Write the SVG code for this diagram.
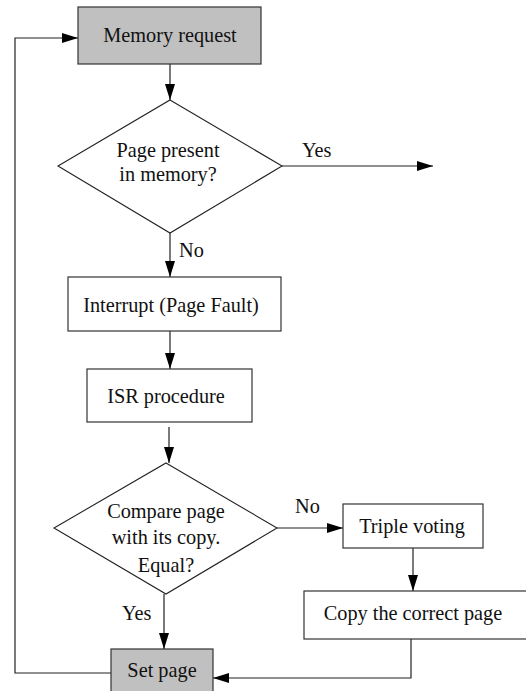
<svg xmlns="http://www.w3.org/2000/svg" width="526" height="691" viewBox="0 0 526 691">
<style>
  .box { fill: #ffffff; stroke: #333333; stroke-width: 1.2; }
  .grey { fill: #c0c0c0; stroke: #333333; stroke-width: 1.2; }
  .dia { fill: #ffffff; stroke: #222222; stroke-width: 1.1; }
  .lbl { font-family: "Liberation Serif", "Times New Roman", serif; font-size: 20.3px; fill: #111111; }
  .c { text-anchor: middle; }
  .conn { fill: none; stroke: #222222; stroke-width: 1.2; }
</style>
<defs>
  <marker id="arr" markerUnits="userSpaceOnUse" markerWidth="16" markerHeight="10" refX="16" refY="5" orient="auto">
    <path d="M0,0 L16,5 L0,10 z" fill="#000000"/>
  </marker>
</defs>
<rect width="526" height="691" fill="#ffffff"/>
<g id="connectors">
  <line class="conn" x1="170" y1="64" x2="170" y2="100" marker-end="url(#arr)"/>
  <line class="conn" x1="282" y1="166" x2="433" y2="166" marker-end="url(#arr)"/>
  <line class="conn" x1="170" y1="233" x2="170" y2="277" marker-end="url(#arr)"/>
  <line class="conn" x1="170" y1="331" x2="170" y2="369" marker-end="url(#arr)"/>
  <line class="conn" x1="169" y1="427" x2="169" y2="463" marker-end="url(#arr)"/>
  <line class="conn" x1="277" y1="528" x2="343" y2="528" marker-end="url(#arr)"/>
  <line class="conn" x1="413" y1="548" x2="413" y2="591" marker-end="url(#arr)"/>
  <polyline class="conn" points="411,639 411,678 213,678" marker-end="url(#arr)"/>
  <line class="conn" x1="164" y1="594" x2="164" y2="649" marker-end="url(#arr)"/>
  <polyline class="conn" points="111,673 15,673 15,38 78,38" marker-end="url(#arr)"/>
  <text class="lbl" x="302" y="157">Yes</text>
  <text class="lbl" x="179" y="257">No</text>
  <text class="lbl" x="295" y="513">No</text>
  <text class="lbl" x="122" y="620">Yes</text>
</g>
<g id="memory-request">
  <rect class="grey" x="78" y="7" width="183" height="57"/>
  <text class="lbl c" x="170" y="42">Memory request</text>
</g>
<g id="page-present">
  <polygon class="dia" points="170,100 282,166 170,233 58,166"/>
  <text class="lbl c" x="168" y="157">Page present</text>
  <text class="lbl c" x="168" y="181">in memory?</text>
</g>
<g id="interrupt">
  <rect class="box" x="68" y="277" width="213" height="54"/>
  <text class="lbl c" x="171" y="312">Interrupt (Page Fault)</text>
</g>
<g id="isr">
  <rect class="box" x="87" y="369" width="165" height="53"/>
  <text class="lbl c" x="166" y="403">ISR procedure</text>
</g>
<g id="compare">
  <polygon class="dia" points="166,463 277,528 166,594 54,528"/>
  <text class="lbl c" x="166" y="518">Compare page</text>
  <text class="lbl c" x="166" y="544">with its copy.</text>
  <text class="lbl c" x="166" y="572">Equal?</text>
</g>
<g id="triple-voting">
  <rect class="box" x="343" y="504" width="140" height="44"/>
  <text class="lbl c" x="412" y="533">Triple voting</text>
</g>
<g id="copy-page">
  <rect class="box" x="304" y="591" width="230" height="48"/>
  <text class="lbl c" x="413" y="620">Copy the correct page</text>
</g>
<g id="set-page">
  <rect class="grey" x="111" y="649" width="102" height="50"/>
  <text class="lbl c" x="162" y="677">Set page</text>
</g>
</svg>
